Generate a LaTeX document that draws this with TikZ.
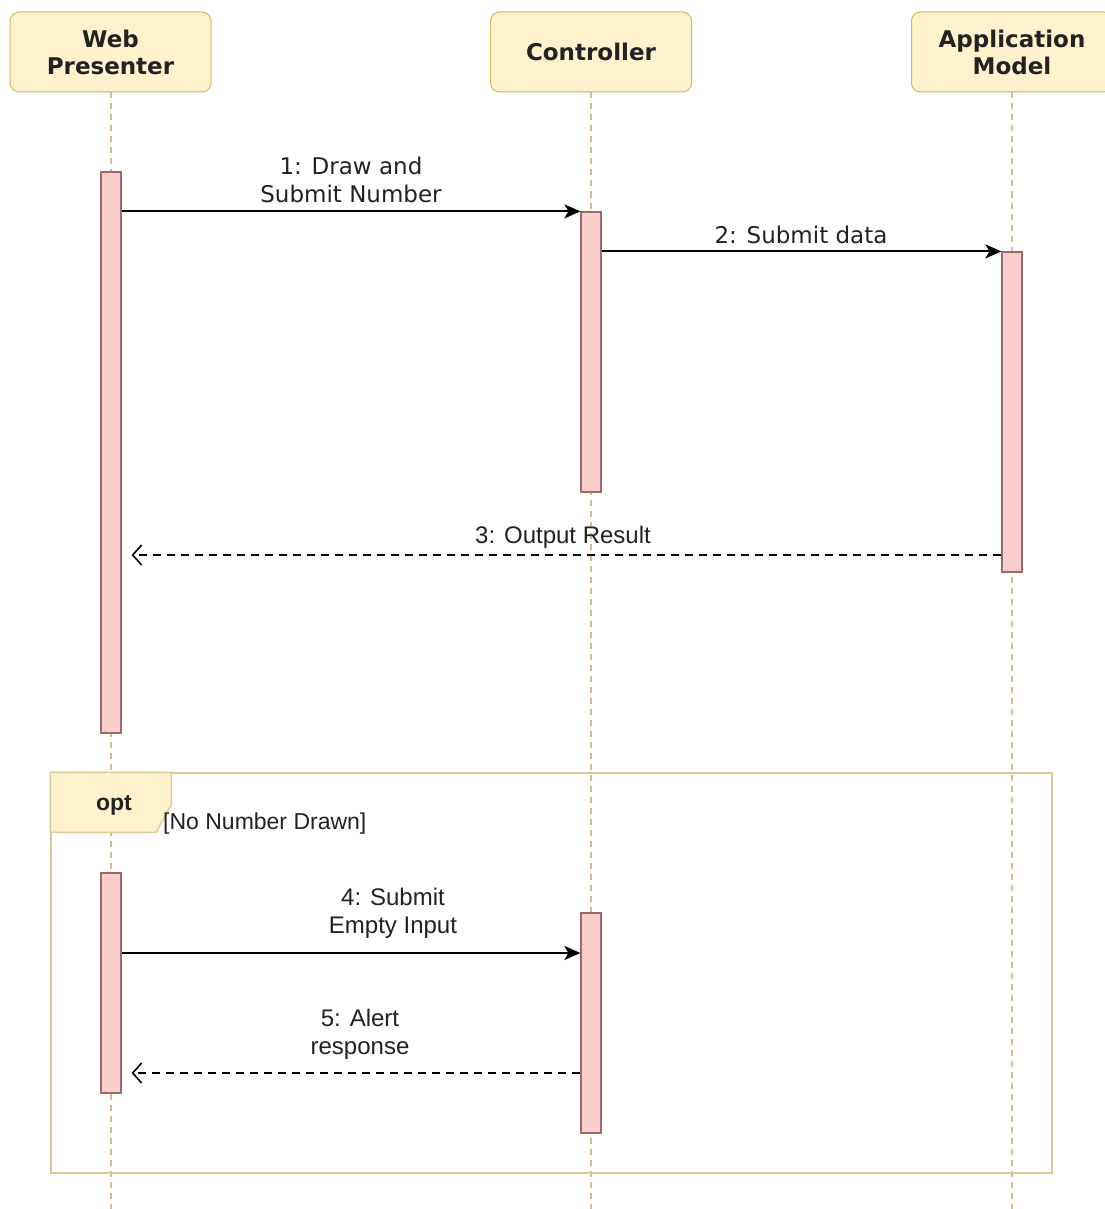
\documentclass[tikz,border=0pt]{standalone}
\usepackage{fontspec}
\setmainfont{DejaVu Sans}
\newfontfamily\arialf{Liberation Sans}
\usetikzlibrary{arrows.meta}
\definecolor{hdrfill}{HTML}{FFF2CC}
\definecolor{hdrline}{HTML}{D6B656}
\definecolor{frameline}{HTML}{DACB96}
\definecolor{barfill}{HTML}{F8CECC}
\definecolor{barline}{HTML}{9E6A66}
\definecolor{lifeline}{HTML}{D4BD8C}
\definecolor{inktext}{HTML}{222222}

\begin{document}
\begin{tikzpicture}[x=1pt,y=-1pt,
  header/.style={draw=hdrline, fill=hdrfill, rounded corners=9pt,
    minimum width=201pt, minimum height=80pt, line width=1pt,
    font=\fontsize{23}{27}\selectfont\bfseries, align=center,
    text=inktext, inner sep=0pt},
  actbar/.style={draw=barline, fill=barfill, minimum width=20pt,
    inner sep=0pt, line width=1.2pt},
  life/.style={draw=lifeline, dash pattern=on 6pt off 5pt, line width=1.2pt},
  call/.style={line width=2pt, -{Stealth[length=16pt,width=14pt,inset=4pt]}},
  reply/.style={line width=1.8pt, dash pattern=on 8pt off 6pt,
    shorten >=10pt,
    -{Straight Barb[length=9pt,width=20pt,line width=1.6pt]}},
  msg/.style={font=\fontsize{23}{28}\selectfont, align=center,
    text=inktext, inner sep=0pt},
  msgb/.style={font=\arialf\fontsize{24}{28}\selectfont, align=center,
    text=inktext, inner sep=0pt},
]
\path[use as bounding box, fill=white] (0,0) rectangle (1104,1209);

% participants
\node[header] (wp) at (110.5,52) {Web\\Presenter};
\node[header] (ctl) at (591,52) {Controller};
\node[header] (am) at (1012,52) {Application\\Model};

% bottom ends of the lifelines
\coordinate (wpEnd) at (111,1209);
\coordinate (ctlEnd) at (591,1209);
\coordinate (amEnd) at (1012,1209);

\draw[life] (wp.south -| wpEnd) -- (wpEnd);
\draw[life] (ctl.south) -- (ctlEnd);
\draw[life] (am.south) -- (amEnd);

% optional fragment
\node[draw=frameline, line width=1.4pt, minimum width=1001pt,
  minimum height=400pt, inner sep=0pt] (optframe) at (551.5,973) {};
\draw[draw=frameline, fill=hdrfill, line width=1.4pt]
  (optframe.north west) -- ++(121,0) -- ++(0,32) -- ++(-15,28)
  -- ++(-106,0) -- cycle;
\node[font=\arialf\bfseries\fontsize{23}{26}\selectfont, text=inktext]
  (optlbl) at (114,805) {opt};
\node[msgb, anchor=west, font=\arialf\fontsize{23}{28}\selectfont]
  (guard) at (163,824) {[No Number Drawn]};

% activation bars
\node[actbar, minimum height=561pt] (wp1) at (111,452.5) {};
\node[actbar, minimum height=280pt] (c1) at (591,352) {};
\node[actbar, minimum height=320pt] (am1) at (1012,412) {};
\node[actbar, minimum height=220pt] (wp2) at (111,983) {};
\node[actbar, minimum height=220pt] (c2) at (591,1023) {};

% message levels
\coordinate (y3) at (1012,555);
\coordinate (y4) at (591,953);
\coordinate (y5) at (591,1073);

% messages
\draw[call] (wp1.east |- c1.north) -- (c1.north west);
\draw[call] (c1.east |- am1.north) -- (am1.north west);
\draw[reply] (am1.west |- y3) -- (wp1.east |- y3);
\draw[call] (wp2.east |- y4) -- (c2.west |- y4);
\draw[reply] (c2.west |- y5) -- (wp2.east |- y5);

% message labels
\node[msg] (l1) at (351,180) {1: Draw and\\Submit Number};
\node[msg] (l2) at (801,235) {2: Submit data};
\node[msgb] (l3) at (563,537) {3: Output Result};
\node[msgb] (l4) at (393,913) {4: Submit\\Empty Input};
\node[msgb] (l5) at (360,1034) {5: Alert\\response};
\end{tikzpicture}
\end{document}
